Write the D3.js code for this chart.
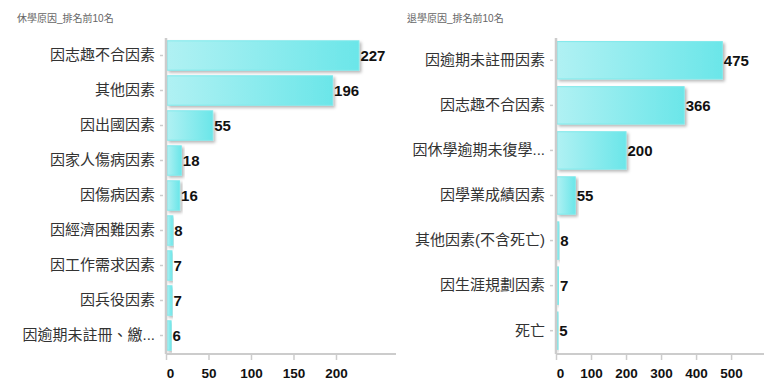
<!DOCTYPE html>
<html>
<head>
<meta charset="utf-8">
<script src="https://cdn.jsdelivr.net/npm/d3@7"></script>
<style>
  html, body { margin: 0; padding: 0; background: #fff; }
  svg { display: block; }
</style>
</head>
<body>
<svg id="chart" width="770" height="390"></svg>
<script>
// ---- Data ----
const leftTitle = "休學原因_排名前10名";
const leftCategories = ["因志趣不合因素", "其他因素", "因出國因素", "因家人傷病因素", "因傷病因素", "因經濟困難因素", "因工作需求因素", "因兵役因素", "因逾期未註冊、繳..."];
const leftValues = [227, 196, 55, 18, 16, 8, 7, 7, 6];
const leftTicks = [0, 50, 100, 150, 200];

const rightTitle = "退學原因_排名前10名";
const rightCategories = ["因逾期未註冊因素", "因志趣不合因素", "因休學逾期未復學...", "因學業成績因素", "其他因素(不含死亡)", "因生涯規劃因素", "死亡"];
const rightValues = [475, 366, 200, 55, 8, 7, 5];
const rightTicks = [0, 100, 200, 300, 400, 500];

const svg = d3.select("#chart");
const FONT = "'Liberation Sans', Arial, 'Noto Sans CJK TC', sans-serif";

const defs = svg.append("defs");
const grad = defs.append("linearGradient").attr("id", "barGrad")
  .attr("x1", "0%").attr("y1", "0%").attr("x2", "100%").attr("y2", "0%");
grad.append("stop").attr("offset", "0%").attr("stop-color", "#b0f1f3");
grad.append("stop").attr("offset", "100%").attr("stop-color", "#6be6e9");
const filt = defs.append("filter").attr("id", "shadow")
  .attr("x", "-10%").attr("y", "-20%").attr("width", "130%").attr("height", "160%");
filt.append("feDropShadow").attr("dx", 2).attr("dy", 2).attr("stdDeviation", 1.5)
  .attr("flood-color", "#000").attr("flood-opacity", 0.28);

function drawChart(cfg) {
  const g = svg.append("g");
  g.append("text")
    .attr("x", cfg.titleX).attr("y", 22)
    .attr("font-family", FONT).attr("font-size", 10).attr("fill", "#666")
    .text(cfg.title);

  const x = d3.scaleLinear().domain([0, cfg.xMax]).range([cfg.x0, cfg.x1]);
  const y = d3.scaleBand().domain(cfg.categories).range([38, 353])
    .paddingInner(cfg.pi).paddingOuter(0.08);

  // bars
  g.append("g").selectAll("rect")
    .data(cfg.values)
    .join("rect")
    .attr("x", x(0) + 1)
    .attr("y", (d, i) => y(cfg.categories[i]))
    .attr("width", d => Math.max(1, x(d) - x(0) - 1))
    .attr("height", y.bandwidth())
    .attr("fill", "url(#barGrad)")
    .attr("stroke", "#7ee9eb")
    .attr("stroke-width", 1)
    .attr("filter", "url(#shadow)");

  // y axis
  const yAxis = d3.axisLeft(y).tickSize(6).tickPadding(5);
  const ya = g.append("g").attr("transform", `translate(${x(0)},0)`).call(yAxis);
  ya.select(".domain").attr("stroke", "#ccc").attr("stroke-width", 2.5)
    .attr("d", `M0,38V354`);
  ya.selectAll(".tick line").attr("stroke", "#ccc").attr("stroke-width", 1.5).attr("x1", -3);
  ya.selectAll(".tick text").attr("font-family", FONT).attr("font-size", 15).attr("fill", "#333");

  // x axis
  const xAxis = d3.axisBottom(x).tickValues(cfg.ticks).tickSize(6).tickPadding(8).tickFormat(d3.format("d"));
  const xa = g.append("g").attr("transform", `translate(0,354)`).call(xAxis);
  xa.select(".domain").attr("stroke", "#ccc").attr("stroke-width", 2)
    .attr("d", `M${x(0)},0H${cfg.x1}`);
  xa.selectAll(".tick line").attr("stroke", "#ccc").attr("stroke-width", 1.5);
  xa.selectAll(".tick text").attr("font-family", FONT).attr("font-size", 13.5)
    .attr("font-weight", "bold").attr("fill", "#111")
    .attr("dx", d => d === 0 ? 4 : 0);

  // value labels
  g.append("g").selectAll("text")
    .data(cfg.values)
    .join("text")
    .attr("x", d => x(d) + 1.5)
    .attr("y", (d, i) => y(cfg.categories[i]) + y.bandwidth() / 2)
    .attr("dy", "0.36em")
    .attr("font-family", FONT).attr("font-size", 15).attr("font-weight", "bold")
    .attr("fill", "#111")
    .text(d => d);
}

drawChart({
  title: leftTitle, titleX: 17, categories: leftCategories, values: leftValues,
  ticks: leftTicks, xMax: 270.6, x0: 166, x1: 396, pi: 0.16
});
drawChart({
  title: rightTitle, titleX: 407, categories: rightCategories, values: rightValues,
  ticks: rightTicks, xMax: 594, x0: 556, x1: 764, pi: 0.17
});
</script>
</body>
</html>
